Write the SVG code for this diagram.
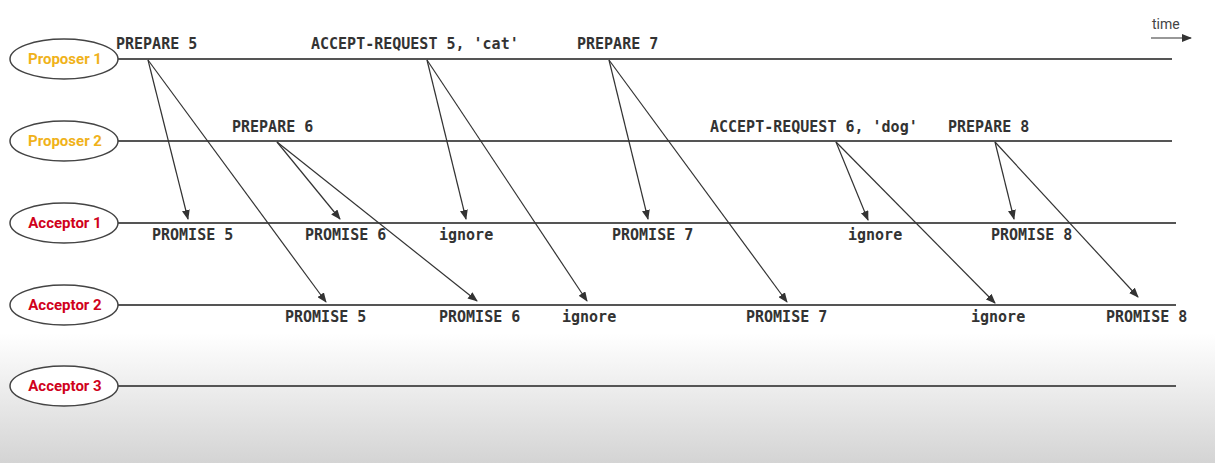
<svg xmlns="http://www.w3.org/2000/svg" width="1215" height="463" viewBox="0 0 1215 463">
<defs>
<linearGradient id="bg" x1="0" y1="0" x2="0" y2="1">
<stop offset="0" stop-color="#ffffff"/>
<stop offset="0.72" stop-color="#ffffff"/>
<stop offset="1" stop-color="#d4d4d4"/>
</linearGradient>
<marker id="ah" markerWidth="10" markerHeight="8" refX="9" refY="4" orient="auto" markerUnits="userSpaceOnUse">
<path d="M0,0 L10,4 L0,8 Z" fill="#333"/>
</marker>
</defs>
<style>
.ell{fill:#fff;stroke:#444;stroke-width:1.5}
.prop{font-family:Roboto,"Liberation Sans",sans-serif;font-weight:bold;font-size:15px;fill:#f0b21a;text-anchor:middle}
.acc{font-family:Roboto,"Liberation Sans",sans-serif;font-weight:bold;font-size:15px;fill:#d0021b;text-anchor:middle}
.tl{stroke:#555;stroke-width:2;fill:none}
.msg{stroke:#333;stroke-width:1.2;fill:none;marker-end:url(#ah)}
.lbl{font-family:"DejaVu Sans Mono","Liberation Mono",monospace;font-weight:bold;font-size:15px;fill:#333}
.time{font-family:Roboto,"Liberation Sans",sans-serif;font-size:14px;fill:#444}
</style>
<rect x="0" y="0" width="1215" height="463" fill="url(#bg)"/>

<g id="timelines">
<line class="tl" x1="118" y1="59" x2="1172" y2="59"/>
<line class="tl" x1="118" y1="141" x2="1172" y2="141"/>
<line class="tl" x1="118" y1="223" x2="1176" y2="223"/>
<line class="tl" x1="118" y1="305" x2="1176" y2="305"/>
<line class="tl" x1="118" y1="386" x2="1176" y2="386"/>
</g>

<g id="proposer1"><ellipse class="ell" cx="64" cy="59" rx="54" ry="20"/><text class="prop" x="65" y="64">Proposer 1</text></g>
<g id="proposer2"><ellipse class="ell" cx="64" cy="141" rx="54" ry="20"/><text class="prop" x="65" y="146">Proposer 2</text></g>
<g id="acceptor1"><ellipse class="ell" cx="64" cy="223" rx="54" ry="20"/><text class="acc" x="65" y="228">Acceptor 1</text></g>
<g id="acceptor2"><ellipse class="ell" cx="64" cy="305" rx="54" ry="20"/><text class="acc" x="65" y="310">Acceptor 2</text></g>
<g id="acceptor3"><ellipse class="ell" cx="64" cy="386" rx="54" ry="20"/><text class="acc" x="65" y="391">Acceptor 3</text></g>

<g id="time">
<text class="time" x="1152" y="29">time</text>
<line x1="1151" y1="38" x2="1191" y2="38" stroke="#333" stroke-width="1.2" marker-end="url(#ah)"/>
</g>

<g id="connectors">
<line class="msg" x1="148" y1="60" x2="188" y2="219"/>
<line class="msg" x1="148" y1="60" x2="326" y2="302"/>
<line class="msg" x1="277" y1="142" x2="340" y2="219"/>
<line class="msg" x1="277" y1="142" x2="477" y2="301"/>
<line class="msg" x1="427" y1="60" x2="466" y2="219"/>
<line class="msg" x1="427" y1="60" x2="587" y2="301"/>
<line class="msg" x1="609" y1="60" x2="648" y2="219"/>
<line class="msg" x1="609" y1="60" x2="787" y2="302"/>
<line class="msg" x1="836" y1="142" x2="868" y2="220"/>
<line class="msg" x1="836" y1="142" x2="995" y2="303"/>
<line class="msg" x1="995" y1="142" x2="1014" y2="219"/>
<line class="msg" x1="995" y1="142" x2="1138" y2="297"/>
</g>

<g id="labels">
<text class="lbl" x="116" y="49">PREPARE 5</text>
<text class="lbl" x="311" y="49">ACCEPT-REQUEST 5, 'cat'</text>
<text class="lbl" x="577" y="49">PREPARE 7</text>
<text class="lbl" x="232" y="132">PREPARE 6</text>
<text class="lbl" x="710" y="132">ACCEPT-REQUEST 6, 'dog'</text>
<text class="lbl" x="948" y="132">PREPARE 8</text>
<text class="lbl" x="152" y="240">PROMISE 5</text>
<text class="lbl" x="305" y="240">PROMISE 6</text>
<text class="lbl" x="439" y="240">ignore</text>
<text class="lbl" x="612" y="240">PROMISE 7</text>
<text class="lbl" x="848" y="240">ignore</text>
<text class="lbl" x="991" y="240">PROMISE 8</text>
<text class="lbl" x="285" y="322">PROMISE 5</text>
<text class="lbl" x="439" y="322">PROMISE 6</text>
<text class="lbl" x="562" y="322">ignore</text>
<text class="lbl" x="746" y="322">PROMISE 7</text>
<text class="lbl" x="971" y="322">ignore</text>
<text class="lbl" x="1106" y="322">PROMISE 8</text>
</g>
</svg>
